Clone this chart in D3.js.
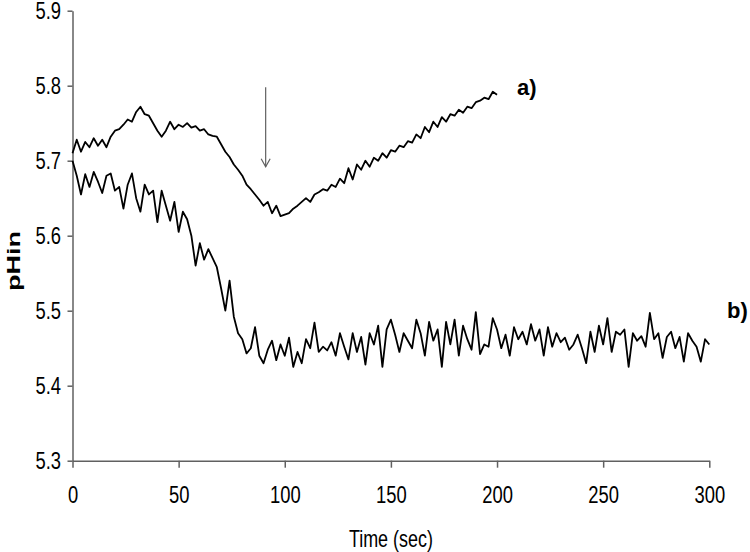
<!DOCTYPE html>
<html>
<head>
<meta charset="utf-8">
<script src="https://cdn.jsdelivr.net/npm/d3@7"></script>
<style>
  html, body { margin: 0; padding: 0; background: #fff; }
  svg { display: block; }
  text { font-family: "Liberation Sans", Arial, sans-serif; fill: #000; }
</style>
</head>
<body>
<svg id="chart" width="750" height="552"></svg>
<script>
// ---- data ----
const timeStep = 2; // seconds between samples
const seriesA = [
  5.710, 5.728, 5.712, 5.725, 5.718, 5.730, 5.720, 5.728, 5.718, 5.732,
  5.740, 5.742, 5.748, 5.755, 5.752, 5.765, 5.772, 5.762, 5.760, 5.750,
  5.740, 5.732, 5.740, 5.752, 5.742, 5.748, 5.745, 5.750, 5.744, 5.746,
  5.740, 5.742, 5.735, 5.733, 5.732, 5.722, 5.712, 5.705, 5.695, 5.688,
  5.680, 5.668, 5.662, 5.655, 5.648, 5.640, 5.645, 5.630, 5.640, 5.626,
  5.628, 5.630, 5.636, 5.640, 5.645, 5.650, 5.645, 5.655, 5.658, 5.662,
  5.660, 5.668, 5.665, 5.676, 5.670, 5.690, 5.675, 5.695, 5.688, 5.700,
  5.692, 5.704, 5.700, 5.710, 5.704, 5.714, 5.712, 5.720, 5.718, 5.726,
  5.724, 5.735, 5.730, 5.745, 5.738, 5.752, 5.745, 5.758, 5.752, 5.762,
  5.760, 5.768, 5.764, 5.772, 5.770, 5.778, 5.780, 5.784, 5.782, 5.792,
  5.788
];
const seriesB = [
  5.700, 5.680, 5.655, 5.682, 5.665, 5.685, 5.672, 5.657, 5.680, 5.683,
  5.660, 5.665, 5.636, 5.668, 5.683, 5.650, 5.632, 5.668, 5.655, 5.660,
  5.618, 5.660, 5.640, 5.620, 5.645, 5.605, 5.632, 5.622, 5.600, 5.560,
  5.590, 5.568, 5.582, 5.570, 5.558, 5.530, 5.500, 5.540, 5.492, 5.470,
  5.462, 5.443, 5.450, 5.478, 5.440, 5.430, 5.448, 5.460, 5.434, 5.455,
  5.440, 5.464, 5.425, 5.445, 5.430, 5.462, 5.450, 5.484, 5.445, 5.452,
  5.447, 5.458, 5.440, 5.470, 5.452, 5.435, 5.470, 5.445, 5.465, 5.428,
  5.470, 5.455, 5.480, 5.425, 5.475, 5.488, 5.468, 5.445, 5.470, 5.460,
  5.450, 5.488, 5.470, 5.440, 5.485, 5.460, 5.475, 5.425, 5.485, 5.455,
  5.488, 5.440, 5.480, 5.462, 5.448, 5.498, 5.442, 5.455, 5.452, 5.490,
  5.475, 5.450, 5.468, 5.440, 5.478, 5.462, 5.472, 5.455, 5.482, 5.460,
  5.475, 5.440, 5.478, 5.452, 5.470, 5.458, 5.464, 5.448, 5.455, 5.468,
  5.450, 5.430, 5.472, 5.445, 5.480, 5.455, 5.490, 5.445, 5.472, 5.468,
  5.475, 5.425, 5.470, 5.460, 5.466, 5.452, 5.497, 5.462, 5.470, 5.437,
  5.465, 5.472, 5.450, 5.465, 5.432, 5.470, 5.460, 5.452, 5.432, 5.462,
  5.455
];
const xTicks = [0, 50, 100, 150, 200, 250, 300];
const yTicks = [5.3, 5.4, 5.5, 5.6, 5.7, 5.8, 5.9];
const seriesLabels = ["a)", "b)"];
const xTitle = "Time (sec)";
const yTitle = "pHin";
const arrow = { t: 91, top: 5.798, tip: 5.692 };

// ---- layout ----
const svg = d3.select("#chart");
const x = d3.scaleLinear().domain([0, 300]).range([72.5, 709.3]);
const y = d3.scaleLinear().domain([5.3, 5.9]).range([460.7, 10.7]);
const axisColor = "#606060";
const sx = 0.8; // horizontal squeeze of the reference lettering

// axes
const gx = svg.append("g").attr("transform", `translate(0,${y(5.3)})`)
  .call(d3.axisBottom(x).tickValues(xTicks).tickSize(7).tickSizeOuter(0)
    .tickFormat(d3.format("d")));
const gy = svg.append("g").attr("transform", `translate(${x(0)},0)`)
  .call(d3.axisLeft(y).tickValues(yTicks).tickSize(5).tickSizeOuter(0)
    .tickFormat(d3.format(".1f")));
[gx, gy].forEach(g => {
  g.select(".domain").attr("stroke", axisColor).attr("stroke-width", 1.5);
  g.selectAll(".tick line").attr("stroke", axisColor).attr("stroke-width", 1.5);
  g.selectAll(".tick text").attr("font-family", '"Liberation Sans", Arial, sans-serif')
    .attr("font-size", 23).attr("fill", "#000");
});
gx.selectAll(".tick text").attr("y", 26).attr("dy", "0.71em")
  .attr("transform", `scale(${sx},1)`);
gy.selectAll(".tick text").attr("x", -11.5 / sx).attr("dy", "0.36em")
  .attr("transform", `scale(${sx},1)`);

// titles
svg.append("text").attr("transform", `translate(${x(150)},547) scale(0.78,1)`)
  .attr("text-anchor", "middle").attr("font-size", 23).text(xTitle);
svg.append("text").attr("transform", `translate(20,261) scale(0.8,1) rotate(-90)`)
  .attr("text-anchor", "middle").attr("font-size", 22).attr("font-weight", "bold")
  .attr("textLength", 60).attr("lengthAdjust", "spacingAndGlyphs").text(yTitle);

// lines
const line = d3.line().x((d, i) => x(i * timeStep)).y(d => y(d));
[seriesA, seriesB].forEach(s => {
  svg.append("path").datum(s).attr("d", line)
    .attr("fill", "none").attr("stroke", "#000").attr("stroke-width", 1.8)
    .attr("stroke-linejoin", "round");
});

// series labels
svg.append("text").attr("x", 517).attr("y", 95)
  .attr("font-size", 22).attr("font-weight", "bold").text(seriesLabels[0]);
svg.append("text").attr("x", 727).attr("y", 318)
  .attr("font-size", 22).attr("font-weight", "bold").text(seriesLabels[1]);

// arrow marker
const ax = x(arrow.t), ay0 = y(arrow.top), ay1 = y(arrow.tip);
svg.append("line").attr("x1", ax).attr("x2", ax).attr("y1", ay0).attr("y2", ay1)
  .attr("stroke", axisColor).attr("stroke-width", 1.2);
svg.append("path")
  .attr("d", `M${ax - 4.5},${ay1 - 8} L${ax},${ay1} L${ax + 4.5},${ay1 - 8}`)
  .attr("fill", "none").attr("stroke", axisColor).attr("stroke-width", 1.2);
</script>
</body>
</html>
